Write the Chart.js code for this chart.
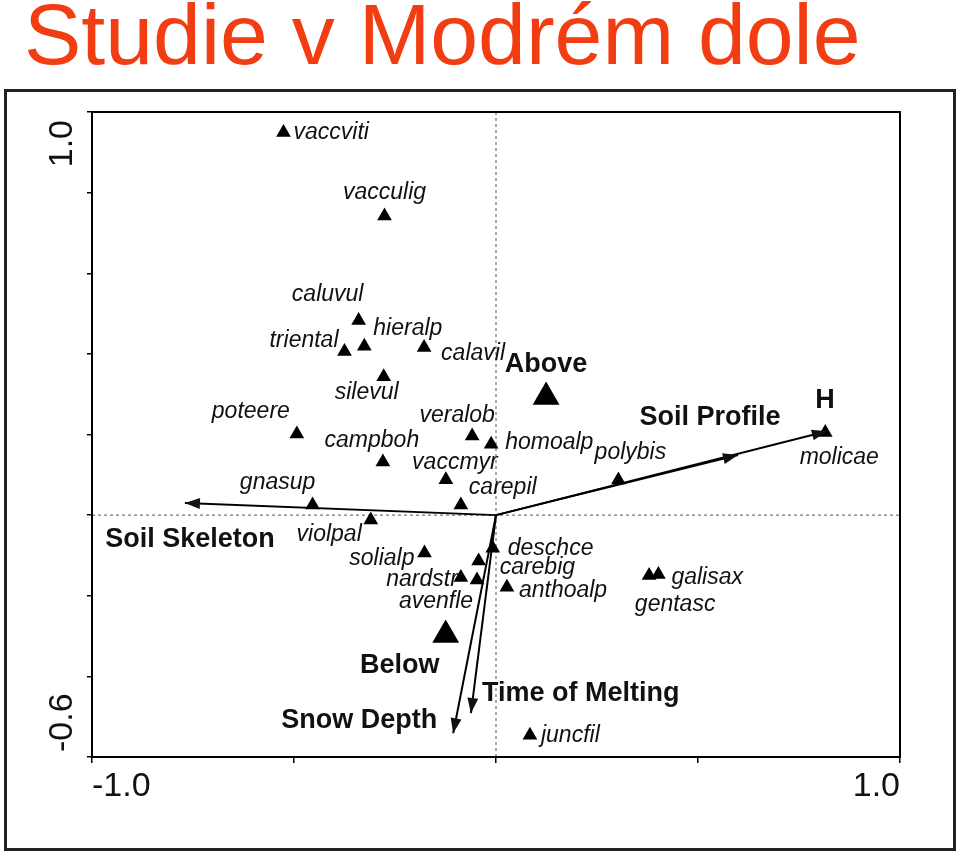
<!DOCTYPE html>
<html lang="cs">
<head>
<meta charset="UTF-8">
<title>Studie v Modrém dole</title>
<script src="https://cdn.jsdelivr.net/npm/chart.js"></script>
<style>
  body { margin: 0; background: #fff; width: 960px; height: 855px; overflow: hidden; position: relative; }
  #title { position: absolute; left: 24px; top: -9px; font: 86px/86px "Liberation Sans", Arial, sans-serif; color: #f23c12; white-space: nowrap; }
  #frame { position: absolute; left: 4px; top: 89px; width: 952px; height: 762px; box-sizing: border-box; border: 3px solid #222; }
  #chart { position: absolute; left: 0; top: 0; }
</style>
</head>
<body>
<div id="title">Studie v Modrém dole</div>
<div id="frame"></div>
<canvas id="chart" width="960" height="855"></canvas>

<script>
// species scores (triangles)
const speciesNames = ['vaccviti', 'vacculig', 'caluvul', 'hieralp', 'triental', 'calavil', 'silevul',
  'poteere', 'campboh', 'veralob', 'homoalp', 'vaccmyr', 'carepil', 'gnasup', 'violpal', 'polybis',
  'molicae', 'solialp', 'deschce', 'carebig', 'nardstr', 'avenfle', 'anthoalp', 'galisax', 'gentasc', 'juncfil'];
const speciesX = [-0.526, -0.276, -0.340, -0.326, -0.375, -0.178, -0.278,
  -0.493, -0.280, -0.059, -0.012, -0.124, -0.087, -0.454, -0.310, 0.303,
  0.815, -0.177, -0.008, -0.043, -0.087, -0.047, 0.027, 0.402, 0.379, 0.084];
const speciesY = [0.949, 0.742, 0.483, 0.419, 0.406, 0.416, 0.343,
  0.201, 0.132, 0.196, 0.176, 0.088, 0.025, 0.025, -0.012, 0.087,
  0.205, -0.094, -0.082, -0.114, -0.155, -0.161, -0.179, -0.147, -0.150, -0.546];

// centroids of the nominal variable
const sampleNames = ['Above', 'Below'];
const sampleX = [0.124, -0.1245];
const sampleY = [0.293, -0.2975];

// environmental arrows (from origin)
const arrowNames = ['Soil Skeleton', 'Soil Profile', 'H', 'Time of Melting', 'Snow Depth'];
const arrowX = [-0.770, 0.599, 0.819, -0.062, -0.106];
const arrowY = [0.030, 0.149, 0.208, -0.491, -0.541];

const xTicks = [-1.0, 1.0];
const xTickLabels = ['-1.0', '1.0'];
const yTicks = [1.0, -0.6];
const yTickLabels = ['1.0', '-0.6'];

// where each label sits relative to its mark: [align, dx, dy] in px
const labelPlace = {
  vaccviti: ['left', 10, 0], vacculig: ['center', 0, -23], caluvul: ['center', -31, -26],
  hieralp: ['left', 9, -18], triental: ['right', -6, -11], calavil: ['left', 17, 6],
  silevul: ['center', -17, 16], poteere: ['right', -7, -22], campboh: ['center', -11, -21],
  veralob: ['center', -15, -21], homoalp: ['left', 14, -2], vaccmyr: ['center', 9, -17],
  carepil: ['left', 8, -17], gnasup: ['center', -35, -22], violpal: ['right', -9, 15],
  polybis: ['center', 12, -27], molicae: ['center', 14, 25], solialp: ['right', -10, 6],
  deschce: ['left', 15, 0], carebig: ['left', 21, 7], nardstr: ['right', -3, 2],
  avenfle: ['center', -41, 22], anthoalp: ['left', 12, 3], galisax: ['left', 13, 3],
  gentasc: ['center', 26, 29], juncfil: ['left', 11, 0],
  Above: ['center', 0, -32], Below: ['center', -46, 30],
  'Soil Skeleton': ['center', 5, 37], 'Soil Profile': ['center', -28, -38], H: ['center', -2, -31],
  'Time of Melting': ['left', 11, -20], 'Snow Depth': ['right', -16, -13]
};

const FONT = '"Liberation Sans", Arial, sans-serif';
const toPts = (xs, ys) => xs.map((x, i) => ({ x: x, y: ys[i] }));

const datasets = [
  { kind: 'points', names: speciesNames, data: toPts(speciesX, speciesY),
    pointStyle: 'triangle', pointRadius: 8.5, backgroundColor: '#000', borderWidth: 0 },
  { kind: 'samples', names: sampleNames, data: toPts(sampleX, sampleY),
    pointStyle: 'triangle', pointRadius: 15.5, backgroundColor: '#000', borderWidth: 0 }
];
arrowNames.forEach((n, i) => {
  datasets.push({ kind: 'arrow', names: [n], data: [{ x: 0, y: 0 }, { x: arrowX[i], y: arrowY[i] }],
    showLine: true, borderColor: '#000', borderWidth: 2, pointRadius: 0 });
});
// zero lines
datasets.push({ kind: 'zero', data: [{ x: 0, y: -0.6 }, { x: 0, y: 1.0 }], showLine: true,
  borderColor: '#555', borderWidth: 1, borderDash: [3, 3], pointRadius: 0 });
datasets.push({ kind: 'zero', data: [{ x: -1, y: 0 }, { x: 1, y: 0 }], showLine: true,
  borderColor: '#555', borderWidth: 1, borderDash: [3, 3], pointRadius: 0 });

const annot = {
  id: 'annot',
  afterDatasetsDraw(chart) {
    const ctx = chart.ctx;
    ctx.save();
    ctx.fillStyle = '#111';
    chart.data.datasets.forEach((ds, di) => {
      if (!ds.names) return;
      const els = chart.getDatasetMeta(di).data;
      if (ds.kind === 'arrow') {
        const a = els[0], b = els[1];
        const ang = Math.atan2(b.y - a.y, b.x - a.x);
        ctx.save();
        ctx.translate(b.x, b.y);
        ctx.rotate(ang);
        ctx.beginPath();
        ctx.moveTo(0, 0); ctx.lineTo(-15, -5.5); ctx.lineTo(-15, 5.5); ctx.closePath();
        ctx.fill();
        ctx.restore();
      }
      ctx.font = ds.kind === 'points' ? 'italic 23px ' + FONT : 'bold 27px ' + FONT;
      ctx.textBaseline = 'middle';
      ds.names.forEach((n, i) => {
        const el = ds.kind === 'arrow' ? els[1] : els[i];
        const p = labelPlace[n];
        ctx.textAlign = p[0];
        ctx.fillText(n, el.x + p[1], el.y + p[2]);
      });
    });
    ctx.restore();
  },
  afterDraw(chart) {
    const ctx = chart.ctx, area = chart.chartArea, ys = chart.scales.y;
    ctx.save();
    ctx.strokeStyle = '#000';
    ctx.lineWidth = 2;
    ctx.strokeRect(area.left, area.top, area.right - area.left, area.bottom - area.top);
    // rotated y tick labels, kept inside the axis range
    ctx.fillStyle = '#111';
    ctx.font = '34px ' + FONT;
    ctx.textBaseline = 'alphabetic';
    yTicks.forEach((v, i) => {
      const py = ys.getPixelForValue(v);
      const top = v === ys.max;
      ctx.save();
      ctx.translate(area.left - 20, top ? py + 8 : py - 5);
      ctx.rotate(-Math.PI / 2);
      ctx.textAlign = top ? 'right' : 'left';
      ctx.fillText(yTickLabels[i], 0, 0);
      ctx.restore();
    });
    ctx.restore();
  }
};

new Chart(document.getElementById('chart'), {
  type: 'scatter',
  data: { datasets: datasets },
  options: {
    responsive: false,
    animation: false,
    devicePixelRatio: 1,
    layout: { padding: { left: 82, right: 60, top: 112, bottom: 43 } },
    plugins: { legend: { display: false }, tooltip: { enabled: false } },
    elements: { line: { tension: 0 } },
    scales: {
      x: {
        min: -1, max: 1,
        afterFit: s => { s.height = 55; },
        grid: { drawOnChartArea: false, color: '#000', lineWidth: 1.5, tickLength: 6 },
        border: { color: '#000', width: 2 },
        ticks: {
          stepSize: 0.5, align: 'inner', padding: 3, color: '#111', maxRotation: 0,
          font: { family: FONT, size: 34 },
          callback: v => {
            const i = xTicks.findIndex(t => Math.abs(t - v) < 1e-9);
            return i >= 0 ? xTickLabels[i] : '';
          }
        }
      },
      y: {
        min: -0.6, max: 1.0,
        afterFit: s => { s.width = 10; },
        grid: { drawOnChartArea: false, color: '#000', lineWidth: 1.5, tickLength: 5 },
        border: { color: '#000', width: 2 },
        ticks: { stepSize: 0.2, callback: () => '' }
      }
    }
  },
  plugins: [annot]
});
</script>
</body>
</html>
